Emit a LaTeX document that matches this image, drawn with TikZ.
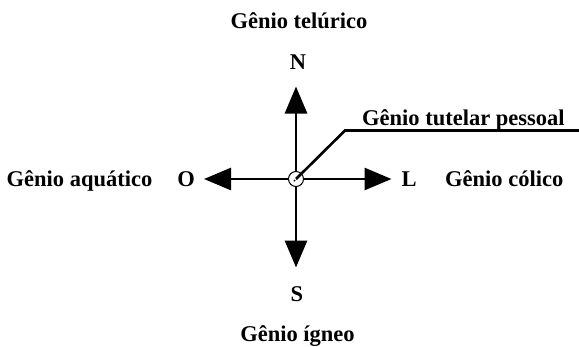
\documentclass[tikz,border=0pt]{standalone}
\usepackage{fontspec}
\setmainfont{Liberation Serif}
\usetikzlibrary{arrows.meta}
\begin{document}
\begin{tikzpicture}[x=1pt,y=-1pt,
  lbl/.style={font=\fontsize{22.5}{27}\selectfont\bfseries, inner sep=0pt, anchor=base},
  axis/.style={line width=2.8pt, -{Triangle[length=27pt,width=22pt]}},
  lead/.style={line width=2.6pt},
  hub/.style={circle, draw, line width=1pt, fill=white, minimum size=15pt, inner sep=0pt}]
\useasboundingbox (0,0) rectangle (579,346);
\node[hub] (c) at (296,179) {};
\coordinate (tN) at (296,86.5);
\coordinate (tS) at (296,267.5);
\coordinate (tO) at (204,179);
\coordinate (tL) at (391.5,179);
\coordinate (bend) at (345,130.5);
\coordinate (lend) at (579,130.5);
\draw[axis] (c) -- (tN);
\draw[axis] (c) -- (tS);
\draw[axis] (c) -- (tO);
\draw[axis] (c) -- (tL);
\fill (c.center) ++(-1.5,1.5) circle (1pt);
\draw[lead] (c.center) -- (bend) -- (lend);
\node[lbl] (tel) at (299,28.5) {Gênio telúrico};
\node[lbl] (n) at (298,69) {N};
\node[lbl] (s) at (297,301) {S};
\node[lbl] (ign) at (297.5,341) {Gênio ígneo};
\node[lbl] (o) at (186,186) {O};
\node[lbl, anchor=base west] (aq) at (6.5,186) {Gênio aquático};
\node[lbl, anchor=base west] (l) at (401.5,186) {L};
\node[lbl, anchor=base west] (eol) at (445,186) {Gênio cólico};
\node[lbl, anchor=base west] (tut) at (362,125) {Gênio tutelar pessoal};
\end{tikzpicture}
\end{document}
